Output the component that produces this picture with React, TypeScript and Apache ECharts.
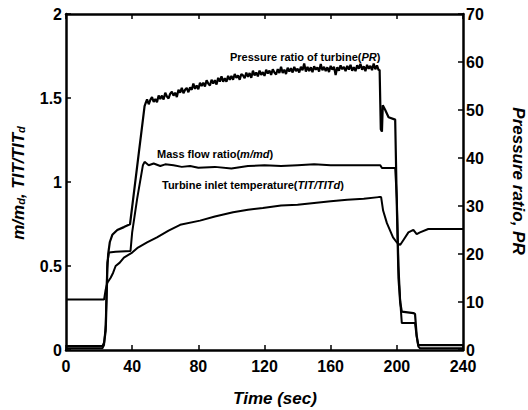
import React, { useEffect, useRef } from "react";
import * as echarts from "echarts";

// ---- data (time in sec) ----
// Turbine inlet temperature ratio TIT/TITd (left axis)
const timeTIT = [0, 23, 24, 25, 27, 28.5, 30, 32.5, 35, 40, 43.5, 49, 55, 62, 69, 81, 90, 101, 110, 119, 130, 140, 150, 160, 170, 180, 189, 190.5, 191.7, 194, 197.7, 200, 202, 204, 207, 210, 212, 214, 219, 240];
const valTIT = [0.3, 0.3, 0.36, 0.4, 0.43, 0.46, 0.5, 0.52, 0.55, 0.58, 0.61, 0.64, 0.67, 0.71, 0.745, 0.77, 0.795, 0.82, 0.835, 0.845, 0.86, 0.865, 0.875, 0.885, 0.895, 0.9, 0.91, 0.91, 0.83, 0.755, 0.67, 0.64, 0.625, 0.655, 0.7, 0.715, 0.69, 0.7, 0.72, 0.72];

// Mass flow ratio m/md (left axis)
const timeMF = [0, 22, 23, 24, 24.5, 25, 26, 30, 39, 40, 43, 46.5, 47.5, 50, 53, 57, 60, 65, 70, 75, 80, 90, 100, 110, 120, 130, 140, 150, 160, 170, 180, 190, 191, 199, 200, 201, 202, 203, 211, 212, 213, 214, 240];
const valMF = [0.01, 0.01, 0.03, 0.15, 0.35, 0.52, 0.58, 0.585, 0.59, 0.7, 0.9, 1.1, 1.12, 1.1, 1.11, 1.095, 1.105, 1.1, 1.09, 1.095, 1.085, 1.09, 1.08, 1.095, 1.1, 1.095, 1.1, 1.105, 1.1, 1.1, 1.1, 1.1, 1.083, 1.083, 0.9, 0.5, 0.3, 0.16, 0.16, 0.08, 0.02, 0.01, 0.01];

// Pressure ratio of turbine PR (right axis)
const timePR = [0, 22, 23, 24, 24.5, 25, 25.5, 26.5, 28, 31, 35, 38.7, 40, 42, 44, 46, 47.5,
  48, 49, 50, 51, 52, 53, 54, 55, 56, 57, 58, 59, 60, 61, 62, 63, 64, 65, 66, 67, 68, 69,
  70, 71, 72, 73, 74, 75, 76, 77, 78, 79, 80, 81, 82, 83, 84, 85, 86, 87, 88, 89,
  90, 91, 92, 93, 94, 95, 96, 97, 98, 99, 100, 101, 102, 103, 104, 105, 106, 107, 108, 109,
  110, 111, 112, 113, 114, 115, 116, 117, 118, 119, 120, 121, 122, 123, 124, 125, 126, 127, 128, 129,
  130, 131, 132, 133, 134, 135, 136, 137, 138, 139, 140, 141, 142, 143, 144, 145, 146, 147, 148, 149,
  150, 151, 152, 153, 154, 155, 156, 157, 158, 159, 160, 161, 162, 163, 164, 165, 166, 167, 168, 169,
  170, 171, 172, 173, 174, 175, 176, 177, 178, 179, 180, 181, 182, 183, 184, 185, 186, 187, 188, 189,
  189.6, 190.3, 191, 191.5, 193, 195, 199, 200, 201, 202, 203, 210, 211, 212, 213, 240];
const valPR = [0.8, 0.8, 1.5, 4, 10, 17, 20, 22.5, 24, 25, 25.6, 26.2, 29.8, 35.4, 41.0, 46.6, 50.8,
  51.3, 52.2, 51.2, 52.1, 52.7, 51.7, 52.3, 51.6, 53.0, 52.3, 53.0, 52.2, 53.6, 52.8, 52.4, 53.4, 53.8, 53.0, 53.6, 52.7, 54.2, 53.6,
  54.6, 53.5, 54.2, 54.6, 53.7, 54.7, 54.2, 55.5, 54.4, 55.1, 54.3, 55.7, 55.0, 55.7, 54.9, 56.2, 55.5, 55.1, 56.3, 55.5,
  56.2, 55.3, 56.7, 55.9, 57.0, 55.9, 56.6, 55.9, 57.1, 56.3, 57.1, 56.3, 57.5, 56.7, 57.2, 56.3, 57.5, 57.2, 56.6, 57.8,
  56.9, 57.7, 56.7, 58.2, 57.2, 57.8, 57.0, 58.2, 57.3, 57.9, 57.1, 58.4, 57.6, 58.2, 57.3, 58.5, 57.8, 57.4, 58.5, 57.7,
  59.0, 57.7, 58.4, 57.5, 58.8, 58.0, 58.7, 57.8, 59.0, 58.1, 58.6, 57.8, 59.0, 58.3, 59.7, 58.0, 59.0, 58.1, 58.9, 57.9,
  59.1, 58.4, 58.9, 58.0, 59.6, 58.3, 59.0, 58.1, 58.9, 57.9, 59.2, 58.4, 59.0, 57.3, 58.9, 58.2, 59.3, 58.5, 59.0, 58.1,
  59.2, 58.4, 59.4, 58.2, 58.9, 58.1, 59.3, 58.6, 59.6, 58.4, 59.1, 58.1, 59.4, 58.6, 59.2, 58.3, 59.7, 58.5, 59.3, 58.3,
  58.4, 46, 45.5, 51, 50, 48.5, 48, 30, 15, 10, 8, 7.7, 7.5, 3, 1.0, 1.0];

// axis tick settings
const xMin = 0, xMax = 240, xStep = 40;
const lMin = 0, lMax = 2, lStep = 0.5;
const rMin = 0, rMax = 70, rStep = 10;

const zip = (t: number[], v: number[]) => t.map((x, i) => [x, v[i]]);

const FONT = "'Liberation Sans', Arial, sans-serif";

export default function App() {
  const ref = useRef<HTMLDivElement>(null);
  useEffect(() => {
    if (!ref.current) return;
    const chart = echarts.init(ref.current, undefined, { renderer: "svg" });
    const axisLine = { show: true, onZero: false, lineStyle: { color: "#000", width: 2.5 } };
    const tick = { show: true, inside: true, length: 5, lineStyle: { color: "#000", width: 1.5 } };
    const lbl = { color: "#000", fontSize: 16, fontWeight: "bold" as const, fontFamily: FONT };
    const lineSeries = (name: string, data: number[][], yIdx: number, width = 2) => ({
      name,
      type: "line",
      data,
      yAxisIndex: yIdx,
      xAxisIndex: 0,
      showSymbol: false,
      symbol: "none",
      lineStyle: { color: "#000", width },
      z: 3,
    });
    const bold = { fontFamily: FONT, fontWeight: "bold", fontSize: 11, fill: "#000" };
    const boldIt = { ...bold, fontStyle: "italic" };
    const nameStyle = { fontFamily: FONT, fontWeight: "bold", fontStyle: "italic", fontSize: 17, fill: "#000" };
    const nameSub = { ...nameStyle, fontSize: 11, verticalAlign: "bottom", lineHeight: 14 };
    chart.setOption({
      animation: false,
      backgroundColor: "#fff",
      grid: { left: 66, right: 65, top: 14, bottom: 60, containLabel: false },
      xAxis: [
        {
          type: "value", position: "bottom", min: xMin, max: xMax, interval: xStep,
          axisLine, axisTick: tick, splitLine: { show: false },
          axisLabel: { ...lbl, margin: 8 },
        },
        {
          type: "value", position: "top", min: xMin, max: xMax, interval: xStep,
          axisLine, axisTick: tick, splitLine: { show: false }, axisLabel: { show: false },
        },
      ],
      yAxis: [
        {
          type: "value", position: "left", min: lMin, max: lMax, interval: lStep,
          axisLine, axisTick: tick, splitLine: { show: false },
          axisLabel: { ...lbl, margin: 4 },
        },
        {
          type: "value", position: "right", min: rMin, max: rMax, interval: rStep,
          axisLine, axisTick: tick, splitLine: { show: false },
          axisLabel: { ...lbl, margin: 3 },
        },
      ],
      series: [
        lineSeries("TIT/TITd", zip(timeTIT, valTIT), 0),
        lineSeries("m/md", zip(timeMF, valMF), 0),
        lineSeries("PR", zip(timePR, valPR), 1, 2.2),
      ],
      graphic: [
        {
          type: "text", x: 230, y: 57,
          style: {
            text: "{n|Pressure ratio of turbine(}{i|PR}{n|)}",
            rich: { n: bold, i: boldIt }, verticalAlign: "middle", align: "left",
          },
        },
        {
          type: "text", x: 157, y: 154,
          style: {
            text: "{n|Mass flow ratio(}{i|m/md}{n|)}",
            rich: { n: bold, i: boldIt }, verticalAlign: "middle", align: "left",
          },
        },
        {
          type: "text", x: 162, y: 185,
          style: {
            text: "{n|Turbine inlet temperature(}{i|TIT/TITd}{n|)}",
            rich: { n: bold, i: boldIt }, verticalAlign: "middle", align: "left",
          },
        },
        {
          type: "text", x: 275, y: 398,
          style: { text: "Time (sec)", ...nameStyle, align: "center", verticalAlign: "middle" },
        },
        {
          type: "text", x: 18, y: 183, rotation: Math.PI / 2,
          style: {
            text: "{a|m/m}{s|d}{a|, TIT/TIT}{s|d}",
            rich: { a: nameStyle, s: nameSub },
            align: "center", verticalAlign: "middle",
          },
        },
        {
          type: "text", x: 518, y: 181, rotation: -Math.PI / 2,
          style: { text: "Pressure ratio, PR", ...nameStyle, align: "center", verticalAlign: "middle" },
        },
      ],
    });
    return () => chart.dispose();
  }, []);
  return (
    <div
      ref={ref}
      style={{ position: "fixed", left: 0, top: 0, width: 528, height: 410, background: "#fff" }}
    />
  );
}
